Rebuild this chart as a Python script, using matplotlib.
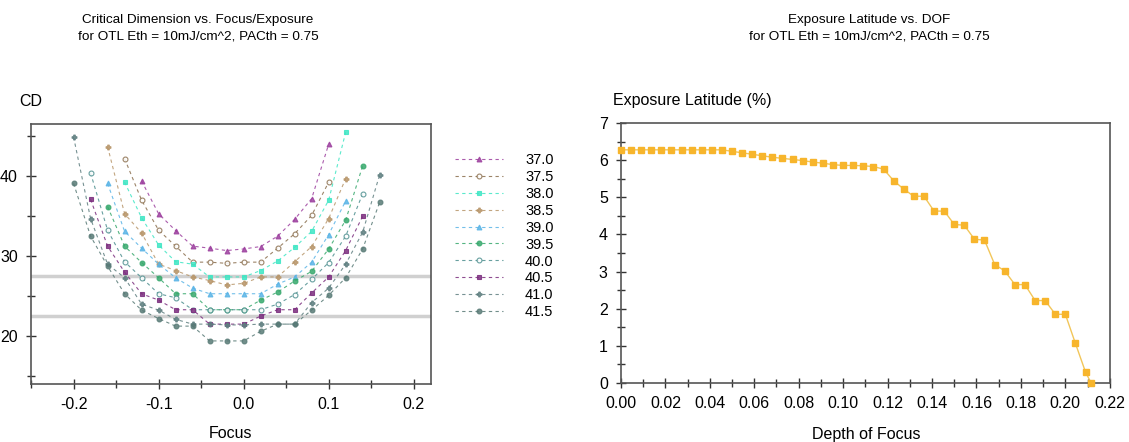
import matplotlib
matplotlib.use("Agg")
import matplotlib.pyplot as plt
from matplotlib.ticker import MultipleLocator, FormatStrFormatter

plt.rcParams['font.family'] = ['Liberation Sans', 'DejaVu Sans']

# ---- left chart: CD vs focus, one curve per exposure dose ----
doses = ['37.0', '37.5', '38.0', '38.5', '39.0', '39.5', '40.0', '40.5', '41.0', '41.5']

focus_370 = [-0.12, -0.10, -0.08, -0.06, -0.04, -0.02, 0.00, 0.02, 0.04, 0.06, 0.08, 0.10]
cd_370 = [39.4, 35.3, 33.2, 31.25, 31.0, 30.7, 30.9, 31.2, 32.5, 34.6, 37.2, 44.0]

focus_375 = [-0.14, -0.12, -0.10, -0.08, -0.06, -0.04, -0.02, 0.00, 0.02, 0.04, 0.06, 0.08, 0.10]
cd_375 = [42.2, 37.0, 33.25, 31.25, 29.25, 29.25, 29.1, 29.25, 29.25, 31.0, 32.8, 35.1, 39.25]

focus_380 = [-0.14, -0.12, -0.10, -0.08, -0.06, -0.04, -0.02, 0.00, 0.02, 0.04, 0.06, 0.08, 0.10, 0.12]
cd_380 = [39.25, 34.8, 31.4, 29.3, 29.0, 27.4, 27.4, 27.4, 28.2, 29.4, 31.1, 33.1, 37.0, 45.5]

focus_385 = [-0.16, -0.14, -0.12, -0.10, -0.08, -0.06, -0.04, -0.02, 0.00, 0.02, 0.04, 0.06, 0.08, 0.10, 0.12]
cd_385 = [43.7, 35.3, 32.9, 29.0, 28.2, 27.4, 26.95, 26.4, 26.6, 27.4, 27.4, 29.3, 31.2, 34.7, 39.7]

focus_390 = [-0.16, -0.14, -0.12, -0.10, -0.08, -0.06, -0.04, -0.02, 0.00, 0.02, 0.04, 0.06, 0.08, 0.10, 0.12]
cd_390 = [39.1, 33.1, 31.0, 29.0, 27.3, 26.0, 25.3, 25.3, 25.3, 25.3, 26.5, 27.4, 29.25, 32.7, 36.9]

focus_395 = [-0.16, -0.14, -0.12, -0.10, -0.08, -0.06, -0.04, -0.02, 0.00, 0.02, 0.04, 0.06, 0.08, 0.10, 0.12, 0.14]
cd_395 = [36.2, 31.25, 29.2, 27.3, 25.3, 25.3, 23.3, 23.3, 23.3, 24.5, 25.5, 26.9, 28.1, 30.9, 34.5, 41.3]

focus_400 = [-0.18, -0.16, -0.14, -0.12, -0.10, -0.08, -0.06, -0.04, -0.02, 0.00, 0.02, 0.04, 0.06, 0.08, 0.10, 0.12, 0.14]
cd_400 = [40.4, 33.25, 29.3, 27.3, 25.3, 24.8, 23.3, 23.3, 23.3, 23.3, 23.3, 24.0, 25.2, 27.1, 29.2, 32.5, 37.8]

focus_405 = [-0.18, -0.16, -0.14, -0.12, -0.10, -0.08, -0.06, -0.04, -0.02, 0.00, 0.02, 0.04, 0.06, 0.08, 0.10, 0.12, 0.14]
cd_405 = [37.1, 31.25, 28.0, 25.3, 24.5, 23.3, 23.3, 21.5, 21.5, 21.5, 22.5, 23.3, 23.3, 25.4, 27.4, 30.7, 35.0]

focus_410 = [-0.20, -0.18, -0.16, -0.14, -0.12, -0.10, -0.08, -0.06, -0.04, -0.02, 0.00, 0.02, 0.04, 0.06, 0.08, 0.10, 0.12, 0.14, 0.16]
cd_410 = [44.9, 34.7, 29.0, 27.3, 24.0, 23.25, 22.1, 21.5, 21.5, 21.4, 21.4, 21.5, 21.5, 21.5, 24.2, 26.0, 29.0, 33.0, 40.2]

focus_415 = [-0.20, -0.18, -0.16, -0.14, -0.12, -0.10, -0.08, -0.06, -0.04, -0.02, 0.00, 0.02, 0.04, 0.06, 0.08, 0.10, 0.12, 0.14, 0.16]
cd_415 = [39.1, 32.5, 28.75, 25.3, 23.25, 22.2, 21.25, 21.25, 19.4, 19.4, 19.4, 20.6, 21.5, 21.5, 23.25, 25.1, 27.3, 30.9, 36.75]

cd_limits = [22.5, 27.5]

# ---- right chart: exposure latitude vs depth of focus ----
dof = [0.0000, 0.0045, 0.0091, 0.0136, 0.0182, 0.0227, 0.0273, 0.0318, 0.0364, 0.0409,
       0.0455, 0.0500, 0.0545, 0.0591, 0.0636, 0.0682, 0.0727, 0.0773, 0.0818, 0.0864,
       0.0909, 0.0955, 0.1000, 0.1045, 0.1091, 0.1136, 0.1182, 0.1227, 0.1273, 0.1318,
       0.1364, 0.1409, 0.1455, 0.1500, 0.1545, 0.1591, 0.1636, 0.1682, 0.1727, 0.1773,
       0.1818, 0.1864, 0.1909, 0.1955, 0.2000, 0.2045, 0.2091, 0.2116]
el = [6.28, 6.28, 6.28, 6.28, 6.28, 6.28, 6.28, 6.28, 6.28, 6.28,
      6.28, 6.24, 6.20, 6.16, 6.12, 6.08, 6.05, 6.02, 5.99, 5.95,
      5.92, 5.88, 5.86, 5.86, 5.85, 5.83, 5.76, 5.45, 5.22, 5.03,
      5.03, 4.63, 4.63, 4.27, 4.25, 3.87, 3.85, 3.19, 3.02, 2.65,
      2.65, 2.22, 2.22, 1.85, 1.85, 1.07, 0.29, 0.00]

series = [
    (focus_370, cd_370, '#9c3f9e', '^', '#9c3f9e'),
    (focus_375, cd_375, '#8b6f4e', 'o', 'white'),
    (focus_380, cd_380, '#3ee6c4', 's', '#3ee6c4'),
    (focus_385, cd_385, '#b8966a', 'P', '#b8966a'),
    (focus_390, cd_390, '#5ab4e6', '^', '#5ab4e6'),
    (focus_395, cd_395, '#36a86c', 'o', '#36a86c'),
    (focus_400, cd_400, '#4d8f8f', 'o', 'white'),
    (focus_405, cd_405, '#7b2d7e', 's', '#7b2d7e'),
    (focus_410, cd_410, '#5f7f80', 'P', '#5f7f80'),
    (focus_415, cd_415, '#587a76', 'o', '#587a76'),
]

fig = plt.figure(figsize=(11.29, 4.42), dpi=100)
ax1 = fig.add_axes([0.0275, 0.131, 0.354, 0.588])
ax2 = fig.add_axes([0.550, 0.1335, 0.433, 0.588])

for y in cd_limits:
    ax1.axhline(y, color='#d0d0d0', lw=2.5, zorder=1)

handles = []
for (fx, cy, col, mk, fc), lab in zip(series, doses):
    h, = ax1.plot(fx, cy, linestyle=(0, (3, 3)), lw=0.8, color=col, alpha=0.85,
                  marker=mk, markersize=3.5, markerfacecolor=fc,
                  markeredgecolor=col, markeredgewidth=0.8, label=lab, zorder=3)
    handles.append(h)

ax1.set_xlim(-0.25, 0.22)
ax1.set_ylim(14, 46.5)
ax1.xaxis.set_major_locator(MultipleLocator(0.1))
ax1.xaxis.set_minor_locator(MultipleLocator(0.05))
ax1.yaxis.set_major_locator(MultipleLocator(10))
ax1.yaxis.set_minor_locator(MultipleLocator(5))
ax1.xaxis.set_major_formatter(FormatStrFormatter('%.1f'))

leg = ax1.legend(handles=handles, loc='upper left', bbox_to_anchor=(455 / 1129, 1 - 153 / 442),
                 bbox_transform=fig.transFigure, frameon=False, fontsize=10.5,
                 handlelength=3.3, handletextpad=1.5, labelspacing=0.2,
                 borderpad=0, borderaxespad=0, numpoints=1)

ax2.plot(dof, el, color='#f2c65a', lw=1.0, marker='s', markersize=4.5,
         markerfacecolor='#f7b52c', markeredgecolor='#f7b52c', zorder=3, clip_on=False)
ax2.set_xlim(0, 0.22)
ax2.set_ylim(0, 7)
ax2.xaxis.set_major_locator(MultipleLocator(0.02))
ax2.xaxis.set_minor_locator(MultipleLocator(0.01))
ax2.yaxis.set_major_locator(MultipleLocator(1))
ax2.yaxis.set_minor_locator(MultipleLocator(0.5))
ax2.xaxis.set_major_formatter(FormatStrFormatter('%.2f'))

for ax in (ax1, ax2):
    for sp in ax.spines.values():
        sp.set_color('#555555')
        sp.set_linewidth(1.2)
    ax.tick_params(which='both', direction='inout', color='#333333', width=1,
                   labelsize=11.5, top=False, right=False)
    ax.tick_params(which='major', length=7, pad=6)
    ax.tick_params(which='minor', length=6)

# titles and axis labels
fig.text(198 / 1129, 1 - 28 / 442,
         'Critical Dimension vs. Focus/Exposure\nfor OTL Eth = 10mJ/cm^2, PACth = 0.75',
         ha='center', va='center', fontsize=9.7, linespacing=1.45)
fig.text(869 / 1129, 1 - 28 / 442,
         'Exposure Latitude vs. DOF\nfor OTL Eth = 10mJ/cm^2, PACth = 0.75',
         ha='center', va='center', fontsize=9.7, linespacing=1.45)
fig.text(19 / 1129, 1 - 101 / 442, 'CD', ha='left', va='center', fontsize=11.5)
fig.text(613 / 1129, 1 - 101 / 442, 'Exposure Latitude (%)', ha='left', va='center', fontsize=11.5)
fig.text(231 / 1129, 1 - 434 / 442, 'Focus', ha='center', va='center', fontsize=11.5)
fig.text(866 / 1129, 1 - 434 / 442, 'Depth of Focus', ha='center', va='center', fontsize=11.5)

fig.savefig('out.png', dpi=100, facecolor='white')
